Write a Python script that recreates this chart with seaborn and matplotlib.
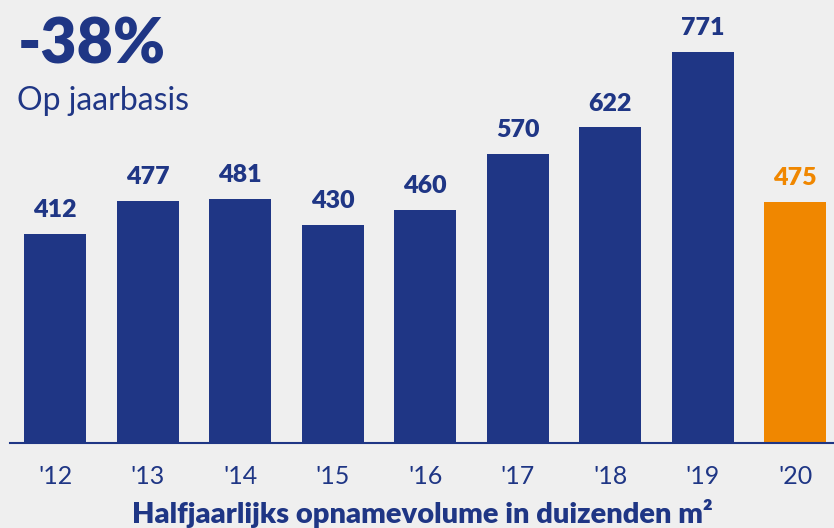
import pandas as pd
import matplotlib.pyplot as plt
import seaborn as sns

years = ["'12", "'13", "'14", "'15", "'16", "'17", "'18", "'19", "'20"]
volume = [412, 477, 481, 430, 460, 570, 622, 771, 475]
colors = ["#1f3685"] * 8 + ["#f08700"]

navy = "#1f3685"
bg = "#efefef"

sns.set_theme(style="white")
plt.rcParams['font.family'] = ['Lato', 'DejaVu Sans']

df = pd.DataFrame({"jaar": years, "volume": volume})

fig = plt.figure(figsize=(8.34, 5.28), dpi=100, facecolor=bg)
ax = fig.add_axes([10 / 834, 85 / 528, 1 - 10 / 834, 406 / 528])
ax.set_facecolor(bg)

sns.barplot(data=df, x="jaar", y="volume", hue="jaar", palette=colors,
            legend=False, width=0.67, saturation=1, linewidth=0,
            edgecolor="none", ax=ax)

for cont, c in zip(ax.containers, colors):
    ax.bar_label(cont, padding=9, fontsize=18, fontweight="heavy", color=c)

ax.set_xlim(-0.49, 8.42)
ax.set_ylim(0, 800)
ax.set_yticks([])
ax.set_ylabel("")
for s in ["left", "right", "top"]:
    ax.spines[s].set_visible(False)
ax.spines["bottom"].set_color(navy)
ax.spines["bottom"].set_linewidth(1.5)
ax.tick_params(axis="x", length=0, pad=16, labelsize=18, labelcolor=navy)
for t in ax.get_xticklabels():
    t.set_fontweight("normal")
ax.set_xlabel("Halfjaarlijks opnamevolume in duizenden m²", fontsize=21,
              fontweight="heavy", color=navy, labelpad=8)

fig.text(18 / 834, 1 - 45 / 528, "-38%", fontsize=45, fontweight="heavy",
         color=navy, va="center", ha="left")
fig.text(17 / 834, 1 - 101 / 528, "Op jaarbasis", fontsize=23,
         fontweight="normal", color=navy, va="center", ha="left")

fig.savefig("out.png", dpi=100, facecolor=bg)
